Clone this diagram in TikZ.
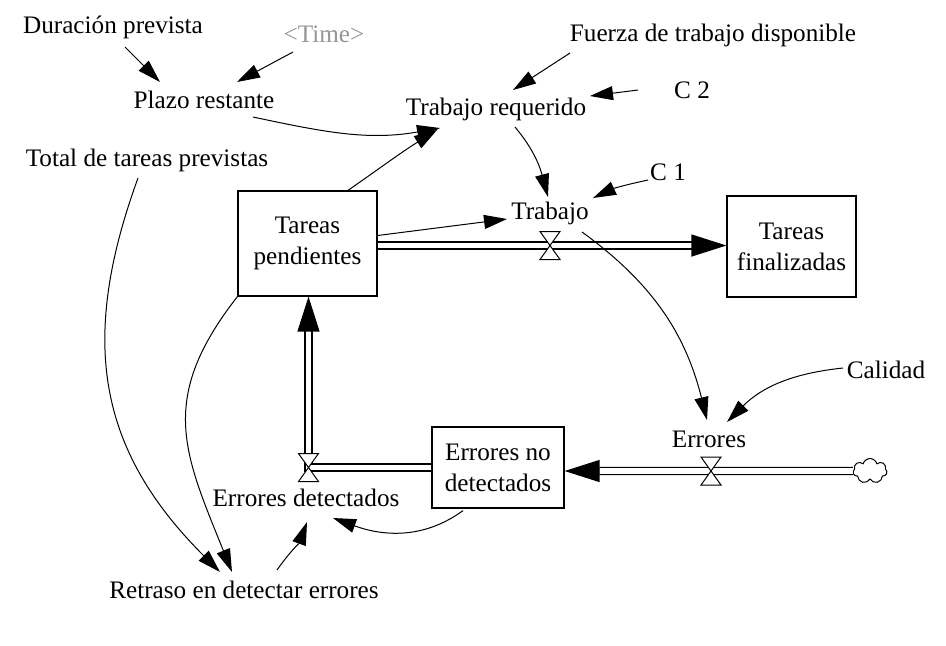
\documentclass[tikz,border=0pt]{standalone}
\usepackage{fontspec}
\setmainfont{Liberation Serif}
\usetikzlibrary{arrows.meta,shapes.symbols}
\definecolor{timegray}{RGB}{150,150,150}

\begin{document}
\begin{tikzpicture}[x=0.5pt,y=0.5pt,
        font=\fontsize{12.6}{15.5}\selectfont,
        var/.style={inner sep=1pt},
        stock/.style={draw,line width=0.6pt,align=center,inner sep=0pt},
        info/.style={line width=0.5pt,-{Triangle[length=11.5pt,width=7pt]}},
        flow/.style={double,double distance=2.8pt,line width=0.65pt,-{Triangle[length=17.5pt,width=11pt]}},
        valve/.pic={\draw[line width=0.5pt,fill=white] (-10,14) -- (10,14) -- (-10,-14) -- (10,-14) -- cycle;}]
        \useasboundingbox (0,0) rectangle (946,-645);

        % variables
        \node[var] (dur) at (113,-27) {Duración prevista};
        \node[var,text=timegray] (time) at (324,-34) {<Time>};
        \node[var] (plazo) at (204,-100) {Plazo restante};
        \node[var] (fuerza) at (713,-35) {Fuerza de trabajo disponible};
        \node[var] (ctwo) at (692,-90) {C 2};
        \node[var] (treq) at (496,-109) {Trabajo requerido};
        \node[var] (total) at (147,-160) {Total de tareas previstas};
        \node[var] (cone) at (668,-172) {C 1};
        \node[var] (trabajo) at (550,-213) {Trabajo};
        \node[var] (calidad) at (886,-370) {Calidad};
        \node[var] (errores) at (709,-439) {Errores};
        \node[var] (errdet) at (306,-498) {Errores detectados};
        \node[var] (retraso) at (244,-590) {Retraso en detectar errores};

        % stocks
        \node[stock,minimum width=69.5pt,minimum height=52.5pt] (pend) at (307.5,-243.5) {Tareas\\pendientes};
        \node[stock,minimum width=64.5pt,minimum height=50.5pt] (fin) at (791.5,-246.5) {Tareas\\finalizadas};
        \node[stock,minimum width=66pt,minimum height=40.5pt] (nodet) at (498,-467.5) {Errores no\\detectados};
        \node[cloud,draw,line width=0.5pt,cloud puffs=7,aspect=1.4,minimum width=17pt,minimum height=12.5pt,inner sep=0pt] (cloud) at (870,-471) {};

        \coordinate (vtrab) at (550,-245.5);
        \coordinate (verr) at (711,-471);
        \coordinate (vdet) at (308.5,-467.5);

        % flows
        \draw[flow] (pend.east |- vtrab) -- (fin.west |- vtrab);
        \draw[flow] (cloud.west) -- (nodet.east |- verr);
        \draw[flow] (nodet.west |- vdet) -- (vdet) -- (pend.south -| vdet);
        \pic at (vtrab) {valve};
        \pic at (verr) {valve};
        \pic at (vdet) {valve};

        % information links
        \draw[info] ([shift={(12,-20)}]dur.center) -- ([shift={(-44,18)}]plazo.center);
        \draw[info] ([shift={(-31,-18)}]time.center) -- ([shift={(33,18)}]plazo.center);
        \draw[info] ([shift={(49,-17)}]plazo.center) to[out=-12,in=190] ([shift={(-56,-19)}]treq.center);
        \draw[info] ([shift={(40.5,0)}]pend.north) to[out=35,in=212] ([shift={(-59,-21)}]treq.center);
        \draw[info] ([shift={(-143,-18)}]fuerza.center) -- ([shift={(17,19)}]treq.center);
        \draw[info] ([shift={(-54,0)}]ctwo.center) -- ([shift={(94,13)}]treq.center);
        \draw[info] ([shift={(19,-18)}]treq.center) to[out=-50,in=105] ([shift={(-2,16)}]trabajo.center);
        \draw[info] ([shift={(-20,-8)}]cone.center) to[out=192,in=25] ([shift={(43,15)}]trabajo.center);
        \draw[info] ([shift={(0,8)}]pend.east) -- ([shift={(-43,-6)}]trabajo.center);
        \draw[info] ([shift={(32,-19)}]trabajo.center) to[out=-36,in=104] ([shift={(-2,19)}]errores.center);
        \draw[info] ([shift={(-43,2)}]calidad.center) to[out=186,in=45] ([shift={(18,17)}]errores.center);
        \draw[info] ([shift={(-9,-18)}]total.center) to[out=250,in=135,looseness=1.1] ([shift={(-24,18)}]retraso.center);
        \draw[info] (pend.south west) to[out=232,in=112,looseness=1.2] ([shift={(-12,18)}]retraso.center);
        \draw[info] ([shift={(33,20)}]retraso.center) to[out=55,in=250] ([shift={(1,-24)}]errdet.center);
        \draw[info] ([shift={(-35,-2)}]nodet.south) to[out=216,in=-20] ([shift={(27,-20)}]errdet.center);
\end{tikzpicture}
\end{document}
